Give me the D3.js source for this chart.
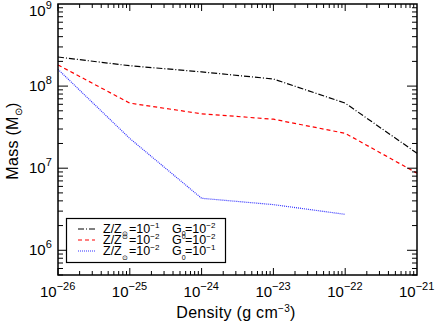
<html>
<head>
<meta charset="utf-8">
<script src="https://d3js.org/d3.v7.min.js"></script>
<style>
body { margin: 0; background: #fff; }
svg { display: block; }
text { font-family: "Liberation Sans", Helvetica, Arial, sans-serif; fill: #000; }
.lab { font-size: 15px; }
.ttl { font-size: 16px; letter-spacing: 0.3px; }
.leg { font-size: 12.5px; }
</style>
</head>
<body>
<svg width="436" height="323"></svg>
<script>

// density values (g cm^-3)
var density = [1e-26, 1e-25, 1e-24, 1e-23, 1e-22, 1e-21];
// mass for each run (Msun)
var massA = [2.26e8, 1.77e8, 1.49e8, 1.22e8, 6.2e7, 1.52e7];
var massB = [1.81e8, 6.2e7, 4.6e7, 3.95e7, 2.66e7, 8.7e6];
var massC = [1.6e8, 2.3e7, 4.3e6, 3.6e6, 2.74e6];
var xTicks = [-26, -25, -24, -23, -22, -21];
var yTicks = [6, 7, 8, 9];

var series = [
    {vals: massA, color: "#000", dash: "6,2,1,2"},
    {vals: massB, color: "#ff0000", dash: "4,3"},
    {vals: massC, color: "#3333ff", dash: "1,1"}
];

var svg = d3.select("svg"),
    pl = 58, pr = 417, pt = 4, pb = 275;

var x = d3.scaleLog().domain([1e-26, 1e-21]).range([pl, pr]);
var y = d3.scaleLog().domain([5e5, 1e9]).range([pb, pt]);

var line = d3.line()
    .x((d, i) => x(density[i]))
    .y(d => y(d));

series.forEach(function(s) {
    svg.append("path")
        .attr("d", line(s.vals))
        .attr("fill", "none")
        .attr("stroke", s.color)
        .attr("stroke-width", 1.2)
        .attr("stroke-dasharray", s.dash);
});

// frame
svg.append("rect")
    .attr("x", pl).attr("y", pt)
    .attr("width", pr - pl).attr("height", pb - pt)
    .attr("fill", "none").attr("stroke", "#000").attr("stroke-width", 1.5);

// ticks (inward, on all four sides)
var ticks = svg.append("g").attr("stroke", "#000").attr("stroke-width", 1);
for (var e = -26; e < -21; e++) {
    for (var m = 1; m < 10; m++) {
        var xv = x(m * Math.pow(10, e));
        var len = m == 1 ? 7 : 4;
        ticks.append("line").attr("x1", xv).attr("x2", xv).attr("y1", pb).attr("y2", pb - len);
        ticks.append("line").attr("x1", xv).attr("x2", xv).attr("y1", pt).attr("y2", pt + len);
    }
}
for (var e = 5; e < 9; e++) {
    for (var m = 1; m < 10; m++) {
        var v = m * Math.pow(10, e);
        if (v < 5e5) continue;
        var yv = y(v);
        var len = m == 1 ? 10 : 5;
        ticks.append("line").attr("x1", pl).attr("x2", pl + len).attr("y1", yv).attr("y2", yv);
        ticks.append("line").attr("x1", pr).attr("x2", pr - len).attr("y1", yv).attr("y2", yv);
    }
}

// tick labels
xTicks.forEach(function(p) {
    var t = svg.append("text").attr("class", "lab")
        .attr("x", x(Math.pow(10, p)) - 18).attr("y", 297);
    t.append("tspan").text("10");
    t.append("tspan").attr("dy", -7).style("font-size", "11px").text("\u2212" + (-p));
});
yTicks.forEach(function(p) {
    var t = svg.append("text").attr("class", "lab")
        .attr("x", 29).attr("y", Math.max(y(Math.pow(10, p)) + 5, 16));
    t.append("tspan").text("10");
    t.append("tspan").attr("dy", -7).style("font-size", "11px").text(p);
});

// axis titles
var xt = svg.append("text").attr("class", "ttl")
    .attr("x", 236).attr("y", 318).attr("text-anchor", "middle");
xt.append("tspan").text("Density (g cm");
xt.append("tspan").attr("dy", -6).style("font-size", "10px").text("\u22123");
xt.append("tspan").attr("dy", 6).text(")");

var yt = svg.append("text").attr("class", "ttl")
    .attr("transform", "translate(18,141) rotate(-90)").attr("text-anchor", "middle");
yt.append("tspan").text("Mass (M");
yt.append("tspan").attr("dy", 4).style("font-size", "10px").text("\u2299");
yt.append("tspan").attr("dy", -4).text(")");

// legend
svg.append("rect")
    .attr("x", 66.5).attr("y", 218.5).attr("width", 159).attr("height", 44)
    .attr("fill", "#fff").attr("stroke", "#000").attr("stroke-width", 1.2);

var legRows = [
    {zpos: 3, zexp: "\u22121", gpos: 3, gexp: "\u22122"},
    {zpos: -5, zexp: "\u22122", gpos: -5, gexp: "\u22122"},
    {zpos: 5, zexp: "\u22122", gpos: 5, gexp: "\u22121"}
];
legRows.forEach(function(r, i) {
    var ly = 229 + i * 11;
    svg.append("line")
        .attr("x1", 78).attr("x2", 95).attr("y1", ly).attr("y2", ly)
        .attr("stroke", series[i].color).attr("stroke-width", 1.2)
        .attr("stroke-dasharray", series[i].dash);
    var t = svg.append("text").attr("class", "leg").attr("x", 103).attr("y", ly + 4);
    t.append("tspan").text("Z/Z");
    t.append("tspan").attr("dy", r.zpos).style("font-size", "7px").text("\u2299");
    t.append("tspan").attr("x", 129).attr("y", ly + 4).text("=10");
    t.append("tspan").attr("dy", -5).style("font-size", "8px").text(r.zexp);
    t.append("tspan").attr("x", 172).attr("y", ly + 4).text("G");
    t.append("tspan").attr("dy", r.gpos).style("font-size", "7px").text("0");
    t.append("tspan").attr("x", 185).attr("y", ly + 4).text("=10");
    t.append("tspan").attr("dy", -5).style("font-size", "8px").text(r.gexp);
});

</script>
</body>
</html>
